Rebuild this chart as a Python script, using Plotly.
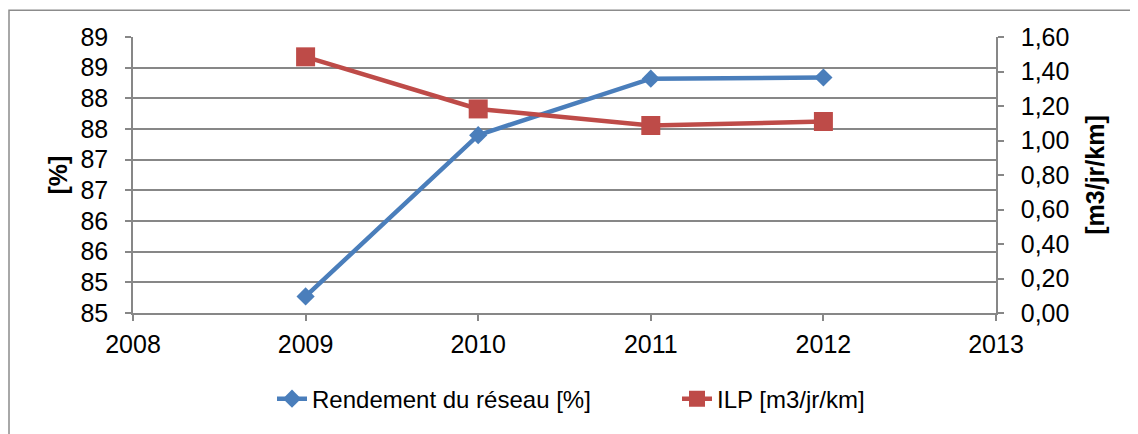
import plotly.graph_objects as go

years = [2009, 2010, 2011, 2012]
rendement = [84.77, 87.40, 88.32, 88.34]
ilp = [1.485, 1.183, 1.087, 1.110]

left_tickvals = [84.5, 85.0, 85.5, 86.0, 86.5, 87.0, 87.5, 88.0, 88.5, 89.0]
left_ticktext = ["85", "85", "86", "86", "87", "87", "88", "88", "89", "89"]
right_tickvals = [0.0, 0.2, 0.4, 0.6, 0.8, 1.0, 1.2, 1.4, 1.6]
x_tickvals = [2008, 2009, 2010, 2011, 2012, 2013]

BLUE = "#4A7EBB"
RED = "#BE4B48"
GRID = "#878787"
FONT = "Liberation Sans, Arial, sans-serif"

W, H = 1130, 426
L, R, T, B = 125, 142, 29, 118
PW, PH = W - L - R, H - T - B

fig = go.Figure()
fig.add_trace(go.Scatter(
    x=years, y=rendement, name="Rendement du réseau [%]",
    mode="lines+markers",
    line=dict(color=BLUE, width=4.5),
    marker=dict(symbol="diamond", size=14, color=BLUE),
    yaxis="y",
))
fig.add_trace(go.Scatter(
    x=years, y=ilp, name="ILP [m3/jr/km]",
    mode="lines+markers",
    line=dict(color=RED, width=4.5),
    marker=dict(symbol="square", size=19, color=RED),
    yaxis="y2",
))

fig.update_layout(
    width=W, height=H,
    margin=dict(l=L, r=R, t=T, b=B),
    paper_bgcolor="white", plot_bgcolor="white",
    font=dict(family=FONT, size=25, color="black"),
    separators=", ",
    showlegend=True,
    legend=dict(orientation="h", x=(264 - L) / PW, xanchor="left",
                y=(H - B - 395) / PH, yanchor="middle",
                font=dict(size=24), bgcolor="rgba(0,0,0,0)",
                entrywidth=360, entrywidthmode="pixels"),
    xaxis=dict(range=[2008, 2013], tickvals=x_tickvals, showgrid=False,
               showline=True, linecolor=GRID, linewidth=1.5,
               ticks="outside", ticklen=6, tickcolor=GRID, tickwidth=1.5,
               ticklabelstandoff=2, zeroline=False),
    yaxis=dict(range=[84.5, 89.0], tickvals=left_tickvals, ticktext=left_ticktext,
               showgrid=True, gridcolor=GRID, gridwidth=1.5,
               showline=True, linecolor=GRID, linewidth=1.5,
               ticks="outside", ticklen=6, tickcolor=GRID, tickwidth=1.5,
               ticklabelstandoff=12, zeroline=False,
               title=dict(text="<b>[%]</b>", standoff=6, font=dict(size=25))),
    yaxis2=dict(range=[0, 1.6], tickvals=right_tickvals, tickformat=".2f",
                overlaying="y", side="right", showgrid=False,
                showline=True, linecolor=GRID, linewidth=1.5,
                ticks="outside", ticklen=6, tickcolor=GRID, tickwidth=1.5,
                ticklabelstandoff=12, zeroline=False,
                title=dict(text="<b>[m3/jr/km]</b>", standoff=18, font=dict(size=25))),
    shapes=[dict(type="rect", xref="paper", yref="paper",
                 x0=(1 - L) / PW, y0=(H - B - 2) / PH, x1=1.25, y1=-0.6,
                 line=dict(color="#8c8c8c", width=1.5), fillcolor="rgba(0,0,0,0)",
                 layer="below")],
)

fig.write_html("out.html")
